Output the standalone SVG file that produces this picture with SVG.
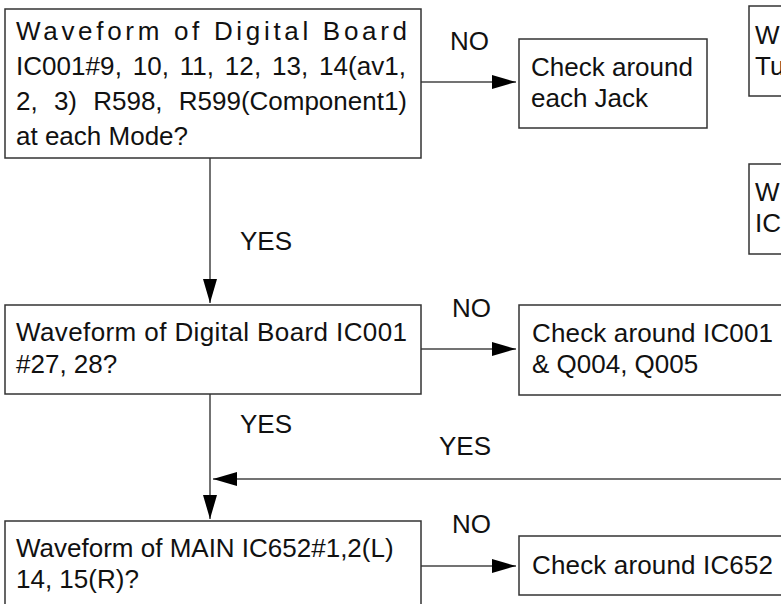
<svg xmlns="http://www.w3.org/2000/svg" width="781" height="604" viewBox="0 0 781 604">
<style>
.box{fill:#fff;stroke:#333;stroke-width:1.5}
.t{font-family:"Liberation Sans",Arial,Helvetica,sans-serif;font-size:26px;fill:#111}
.c{stroke:#444;stroke-width:1.5;fill:none}
</style>
<defs>
<marker id="ah" markerUnits="userSpaceOnUse" markerWidth="24" markerHeight="14" refX="24" refY="7" orient="auto">
<path d="M0,0 L24,7 L0,14 z" fill="#000"/>
</marker>
</defs>
<rect width="781" height="604" fill="#fff"/>
<g id="connectors">
<line class="c" x1="421" y1="82" x2="516" y2="82" marker-end="url(#ah)"/>
<line class="c" x1="210" y1="158" x2="210" y2="303" marker-end="url(#ah)"/>
<line class="c" x1="421" y1="349" x2="516" y2="349" marker-end="url(#ah)"/>
<line class="c" x1="210" y1="394" x2="210" y2="519" marker-end="url(#ah)"/>
<line class="c" x1="785" y1="479" x2="213" y2="479" marker-end="url(#ah)"/>
<line class="c" x1="421" y1="566" x2="516" y2="566" marker-end="url(#ah)"/>
<text class="t" x="450" y="50">NO</text>
<text class="t" x="240" y="250">YES</text>
<text class="t" x="452" y="317">NO</text>
<text class="t" x="240" y="433">YES</text>
<text class="t" x="439" y="455">YES</text>
<text class="t" x="452" y="533">NO</text>
</g>
<g id="n1">
<rect class="box" x="5" y="9" width="416" height="149"/>
<text class="t" x="16" y="39.5" textLength="391" lengthAdjust="spacing">Waveform of Digital Board</text>
<text class="t" x="16" y="74.5" word-spacing="3.5" textLength="390" lengthAdjust="spacing">IC001#9, 10, 11, 12, 13, 14(av1,</text>
<text class="t" x="16" y="109.5" word-spacing="9" textLength="391" lengthAdjust="spacing">2, 3) R598, R599(Component1)</text>
<text class="t" x="16" y="145">at each Mode?</text>
</g>
<g id="n2">
<rect class="box" x="519" y="39" width="188" height="89"/>
<text class="t" x="531" y="76">Check around</text>
<text class="t" x="531" y="107">each Jack</text>
</g>
<g id="n3">
<rect class="box" x="749" y="6" width="60" height="90"/>
<text class="t" x="755" y="43.5">W</text>
<text class="t" x="755" y="74.5">Tu</text>
</g>
<g id="n4">
<rect class="box" x="749" y="164" width="60" height="90"/>
<text class="t" x="755" y="201">W</text>
<text class="t" x="755" y="232">IC</text>
</g>
<g id="n5">
<rect class="box" x="5" y="305" width="416" height="89"/>
<text class="t" x="16" y="340.5" textLength="391" lengthAdjust="spacing">Waveform of Digital Board IC001</text>
<text class="t" x="16" y="372.5">#27, 28?</text>
</g>
<g id="n6">
<rect class="box" x="519" y="305" width="290" height="90"/>
<text class="t" x="532" y="342" textLength="241" lengthAdjust="spacing">Check around IC001</text>
<text class="t" x="532" y="373">&amp; Q004, Q005</text>
</g>
<g id="n7">
<rect class="box" x="5" y="521" width="416" height="110"/>
<text class="t" x="16" y="557">Waveform of MAIN IC652#1,2(L)</text>
<text class="t" x="16" y="588">14, 15(R)?</text>
</g>
<g id="n8">
<rect class="box" x="519" y="536" width="290" height="59"/>
<text class="t" x="532" y="574" textLength="241" lengthAdjust="spacing">Check around IC652</text>
</g>
</svg>
